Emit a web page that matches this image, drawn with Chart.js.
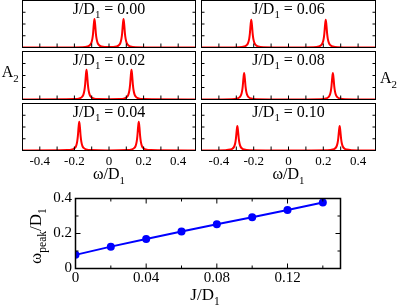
<!DOCTYPE html>
<html>
<head>
<meta charset="utf-8">
<script src="https://cdn.jsdelivr.net/npm/chart.js@4.4.1/dist/chart.umd.min.js"></script>
<style>
  html, body { margin: 0; padding: 0; background: #fff; }
  #wrap { position: relative; width: 399px; height: 306px; overflow: hidden; background: #fff; }
  #wrap canvas { position: absolute; }
</style>
</head>
<body>
<div id="wrap"></div>
<script>
// spectra A2(omega), [omega/D1, A2]
const specJ000 = [
  [-0.5, 0], [-0.154, 0.031], [-0.124, 0.092], [-0.111, 0.196], [-0.102, 0.40], [-0.096, 0.75],
  [-0.092, 1.21], [-0.088, 1.94], [-0.084, 2.42], [-0.080, 1.94], [-0.076, 1.21], [-0.072, 0.75],
  [-0.066, 0.40], [-0.057, 0.196], [-0.044, 0.092], [0, 0.045],
  [0.044, 0.092], [0.057, 0.196], [0.066, 0.40], [0.072, 0.75], [0.076, 1.21], [0.080, 1.94],
  [0.084, 2.42], [0.088, 1.94], [0.092, 1.21], [0.096, 0.75], [0.102, 0.40], [0.111, 0.196],
  [0.124, 0.092], [0.154, 0.031], [0.5, 0]
];
const specJ002 = [
  [-0.5, 0], [-0.2, 0.032], [-0.17, 0.094], [-0.157, 0.20], [-0.148, 0.41], [-0.142, 0.77],
  [-0.138, 1.24], [-0.134, 1.98], [-0.13, 2.48], [-0.126, 1.98], [-0.122, 1.24], [-0.118, 0.77],
  [-0.112, 0.41], [-0.103, 0.20], [-0.09, 0.094], [-0.06, 0.032], [0, 0.02],
  [0.06, 0.032], [0.09, 0.094], [0.103, 0.20], [0.112, 0.41], [0.118, 0.77], [0.122, 1.24],
  [0.126, 1.98], [0.13, 2.48], [0.134, 1.98], [0.138, 1.24], [0.142, 0.77], [0.148, 0.41],
  [0.157, 0.20], [0.17, 0.094], [0.2, 0.032], [0.5, 0]
];
const specJ004 = [
  [-0.5, 0], [-0.242, 0.032], [-0.212, 0.093], [-0.199, 0.198], [-0.19, 0.40], [-0.184, 0.76],
  [-0.18, 1.23], [-0.176, 1.96], [-0.172, 2.45], [-0.168, 1.96], [-0.164, 1.23], [-0.16, 0.76],
  [-0.154, 0.40], [-0.145, 0.198], [-0.132, 0.093], [-0.102, 0.032], [0, 0.01],
  [0.102, 0.032], [0.132, 0.093], [0.145, 0.198], [0.154, 0.40], [0.16, 0.76], [0.164, 1.23],
  [0.168, 1.96], [0.172, 2.45], [0.176, 1.96], [0.18, 1.23], [0.184, 0.76], [0.19, 0.40],
  [0.199, 0.198], [0.212, 0.093], [0.242, 0.032], [0.5, 0]
];
const specJ006 = [
  [-0.5, 0], [-0.284, 0.031], [-0.254, 0.09], [-0.241, 0.19], [-0.232, 0.39], [-0.226, 0.73],
  [-0.222, 1.18], [-0.218, 1.89], [-0.214, 2.36], [-0.21, 1.89], [-0.206, 1.18], [-0.202, 0.73],
  [-0.196, 0.39], [-0.187, 0.19], [-0.174, 0.09], [-0.144, 0.031], [0, 0.008],
  [0.144, 0.031], [0.174, 0.09], [0.187, 0.19], [0.196, 0.39], [0.202, 0.73], [0.206, 1.18],
  [0.21, 1.89], [0.214, 2.36], [0.218, 1.89], [0.222, 1.18], [0.226, 0.73], [0.232, 0.39],
  [0.241, 0.19], [0.254, 0.09], [0.284, 0.031], [0.5, 0]
];
const specJ008 = [
  [-0.5, 0], [-0.325, 0.029], [-0.295, 0.084], [-0.282, 0.178], [-0.273, 0.36], [-0.267, 0.68],
  [-0.263, 1.1], [-0.259, 1.76], [-0.255, 2.2], [-0.251, 1.76], [-0.247, 1.1], [-0.243, 0.68],
  [-0.237, 0.36], [-0.228, 0.178], [-0.215, 0.084], [-0.185, 0.029], [0, 0.006],
  [0.185, 0.029], [0.215, 0.084], [0.228, 0.178], [0.237, 0.36], [0.243, 0.68], [0.247, 1.1],
  [0.251, 1.76], [0.255, 2.2], [0.259, 1.76], [0.263, 1.1], [0.267, 0.68], [0.273, 0.36],
  [0.282, 0.178], [0.295, 0.084], [0.325, 0.029], [0.5, 0]
];
const specJ010 = [
  [-0.5, 0.002], [-0.364, 0.027], [-0.334, 0.079], [-0.321, 0.168], [-0.312, 0.34], [-0.306, 0.64],
  [-0.302, 1.04], [-0.298, 1.66], [-0.294, 2.08], [-0.29, 1.66], [-0.286, 1.04], [-0.282, 0.64],
  [-0.276, 0.34], [-0.267, 0.168], [-0.254, 0.079], [-0.224, 0.027], [0, 0.005],
  [0.224, 0.027], [0.254, 0.079], [0.267, 0.168], [0.276, 0.34], [0.282, 0.64], [0.286, 1.04],
  [0.29, 1.66], [0.294, 2.08], [0.298, 1.66], [0.302, 1.04], [0.306, 0.64], [0.312, 0.34],
  [0.321, 0.168], [0.334, 0.079], [0.364, 0.027], [0.5, 0.002]
];
const panelJ = ["0.00", "0.02", "0.04", "0.06", "0.08", "0.10"];

// peak position vs J (bottom panel)
const jValues = [0, 0.02, 0.04, 0.06, 0.08, 0.10, 0.12, 0.14];
const omegaPeak = [0.078, 0.125, 0.168, 0.211, 0.253, 0.293, 0.334, 0.377];

// ticks
const omegaTickVals = [-0.4, -0.2, 0, 0.2, 0.4];
const omegaTickLabels = ["-0.4", "-0.2", "0", "0.2", "0.4"];
const omegaMinorVals = [-0.4, -0.3, -0.2, -0.1, 0, 0.1, 0.2, 0.3, 0.4];
const a2TickVals = [1, 2, 3];
const jTickVals = [0, 0.04, 0.08, 0.12];
const jTickLabels = ["0", "0.04", "0.08", "0.12"];
const jMinorVals = [0.02, 0.04, 0.06, 0.08, 0.10, 0.12, 0.14];
const peakTickVals = [0, 0.2, 0.4];
const peakTickLabels = ["0", "0.2", "0.4"];
const peakMinorVals = [0.1, 0.2, 0.3];

const SERIF = '"Liberation Serif", "Times New Roman", serif';
const wrap = document.getElementById("wrap");

function addCanvas(left, top, w, h) {
  const c = document.createElement("canvas");
  c.width = w; c.height = h;
  c.style.left = left + "px"; c.style.top = top + "px";
  c.style.width = w + "px"; c.style.height = h + "px";
  wrap.appendChild(c);
  return c;
}

// text with subscripts: parts = [[text, isSub], ...]
function drawRich(ctx, parts, x, y, size, align) {
  const subSize = size * 0.68;
  let w = 0;
  parts.forEach(([t, sub]) => {
    ctx.font = (sub ? subSize : size) + "px " + SERIF;
    w += ctx.measureText(t).width;
  });
  let cx = align === "center" ? x - w / 2 : x;
  ctx.textAlign = "left";
  ctx.textBaseline = "alphabetic";
  ctx.fillStyle = "#000";
  parts.forEach(([t, sub]) => {
    ctx.font = (sub ? subSize : size) + "px " + SERIF;
    ctx.fillText(t, cx, sub ? y + size * 0.3 : y);
    cx += ctx.measureText(t).width;
  });
}

function makeFrame(cfg) {
  return {
    id: "frame",
    afterDatasetsDraw(chart) {
      const { ctx, chartArea: a, scales } = chart;
      const x = scales.x, y = scales.y;
      ctx.save();
      ctx.strokeStyle = "#000";
      ctx.lineWidth = 1;
      ctx.beginPath();
      cfg.xTicks.forEach(v => {
        const px = x.getPixelForValue(v);
        const len = cfg.xMajor && cfg.xMajor.includes(v) ? cfg.xLen + 2 : cfg.xLen;
        ctx.moveTo(px, a.bottom); ctx.lineTo(px, a.bottom - len);
        if (cfg.topTicks) { ctx.moveTo(px, a.top); ctx.lineTo(px, a.top + len); }
      });
      cfg.yTicks.forEach(v => {
        const py = y.getPixelForValue(v);
        const len = cfg.yMajor && cfg.yMajor.includes(v) ? cfg.yLen + 2 : cfg.yLen;
        ctx.moveTo(a.left, py); ctx.lineTo(a.left + len, py);
        ctx.moveTo(a.right, py); ctx.lineTo(a.right - len, py);
      });
      ctx.stroke();
      ctx.lineWidth = cfg.frameWidth;
      ctx.strokeRect(a.left, a.top, a.right - a.left, a.bottom - a.top);
      (cfg.labels || []).forEach(l => {
        const p = l.pos(a);
        if (l.rotate) {
          ctx.save();
          ctx.translate(p[0], p[1]);
          ctx.rotate(-Math.PI / 2);
          drawRich(ctx, l.parts, 0, 0, l.size, l.align);
          ctx.restore();
        } else {
          drawRich(ctx, l.parts, p[0], p[1], l.size, l.align);
        }
      });
      ctx.restore();
    }
  };
}

const specs = [specJ000, specJ002, specJ004, specJ006, specJ008, specJ010];
const rows = [
  { top: 0, h: 50, padTop: 0.5, padBottom: 2.5, axisH: 0 },
  { top: 50, h: 53, padTop: 1.5, padBottom: 3.5, axisH: 0 },
  { top: 102, h: 84, padTop: 1.5, padBottom: 11.5, axisH: 24 }
];
const cols = [
  { left: 0, w: 199, padLeft: 22.5, padRight: 3.5 },
  { left: 199, w: 200, padLeft: 2.5, padRight: 23.5 }
];

specs.forEach((spec, i) => {
  const col = cols[Math.floor(i / 3)];
  const rowIdx = i % 3;
  const row = rows[rowIdx];
  const canvas = addCanvas(col.left, row.top, col.w, row.h);
  const labels = [{
    parts: [["J/D", 0], ["1", 1], [" = " + panelJ[i], 0]],
    size: 16, align: "center",
    pos: a => [(a.left + a.right) / 2, a.top + 13]
  }];
  if (rowIdx === 1 && i < 3) {
    labels.push({ parts: [["A", 0], ["2", 1]], size: 16, align: "left", pos: a => [a.left - 20.8, a.top + 25.8] });
  }
  if (rowIdx === 1 && i >= 3) {
    labels.push({ parts: [["A", 0], ["2", 1]], size: 16, align: "left", pos: a => [a.right + 4.5, a.top + 31.2] });
  }
  if (rowIdx === 2) {
    labels.push({ parts: [["ω/D", 0], ["1", 1]], size: 16, align: "center", pos: a => [(a.left + a.right) / 2, a.bottom + 28.5] });
  }
  new Chart(canvas, {
    type: "line",
    data: {
      datasets: [{
        data: spec,
        borderColor: "#ff0000",
        borderWidth: 2,
        pointRadius: 0,
        cubicInterpolationMode: "monotone",
        fill: false
      }]
    },
    options: {
      responsive: false,
      animation: false,
      events: [],
      layout: { padding: { left: col.padLeft, right: col.padRight, top: row.padTop, bottom: row.padBottom } },
      plugins: { legend: { display: false }, tooltip: { enabled: false } },
      scales: {
        x: {
          type: "linear", min: -0.5, max: 0.5,
          grid: { display: false, drawTicks: false, tickLength: 0 }, border: { display: false },
          afterBuildTicks: s => { s.ticks = omegaTickVals.map(v => ({ value: v })); },
          afterFit: s => { s.height = row.axisH; },
          ticks: {
            display: rowIdx === 2, autoSkip: false, maxRotation: 0, padding: 3,
            color: "#000", font: { family: SERIF, size: 13 },
            callback: (v, idx) => omegaTickLabels[idx]
          }
        },
        y: { type: "linear", min: 0, max: 4, display: false }
      }
    },
    plugins: [makeFrame({
      xTicks: omegaMinorVals, xLen: 4, yTicks: a2TickVals, yLen: 3,
      frameWidth: 1, labels
    })]
  });
});

// bottom panel: peak position vs J
const bottomCanvas = addCanvas(0, 186, 399, 120);
new Chart(bottomCanvas, {
  type: "line",
  data: {
    datasets: [{
      data: jValues.map((j, k) => ({ x: j, y: omegaPeak[k] })),
      borderColor: "#0000ff",
      borderWidth: 2,
      pointRadius: 4,
      pointBackgroundColor: "#0000ff",
      pointBorderWidth: 0,
      tension: 0,
      fill: false
    }]
  },
  options: {
    responsive: false,
    animation: false,
    events: [],
    layout: { padding: { left: 35.5, right: 58.5, top: 8.5, bottom: 15.5 } },
    plugins: { legend: { display: false }, tooltip: { enabled: false } },
    scales: {
      x: {
        type: "linear", min: 0, max: 0.15,
        grid: { display: false, drawTicks: false, tickLength: 0 }, border: { display: false },
        afterBuildTicks: s => { s.ticks = jTickVals.map(v => ({ value: v })); },
        afterFit: s => { s.height = 22; },
        ticks: {
          autoSkip: false, maxRotation: 0, padding: 1,
          color: "#000", font: { family: SERIF, size: 15 },
          callback: (v, idx) => jTickLabels[idx]
        }
      },
      y: {
        type: "linear", min: 0, max: 0.4,
        grid: { display: false, drawTicks: false, tickLength: 0 }, border: { display: false },
        afterBuildTicks: s => { s.ticks = peakTickVals.map(v => ({ value: v })); },
        afterFit: s => { s.width = 40; },
        ticks: {
          padding: 3.5,
          color: "#000", font: { family: SERIF, size: 15 },
          callback: (v, idx) => peakTickLabels[idx]
        }
      }
    }
  },
  plugins: [makeFrame({
    xTicks: jMinorVals, xMajor: [0.04, 0.08, 0.12], xLen: 3, topTicks: true,
    yTicks: peakMinorVals, yMajor: [0.2], yLen: 3,
    frameWidth: 1.5,
    labels: [
      { parts: [["J/D", 0], ["1", 1]], size: 17, align: "center", pos: a => [(a.left + a.right) / 2 - 3, a.bottom + 31.5] },
      { parts: [["ω", 0], ["peak", 1], ["/D", 0], ["1", 1]], size: 17, align: "center", rotate: true,
        pos: a => [a.left - 34.5, (a.top + a.bottom) / 2 + 2.5] }
    ]
  })]
});
</script>
</body>
</html>
